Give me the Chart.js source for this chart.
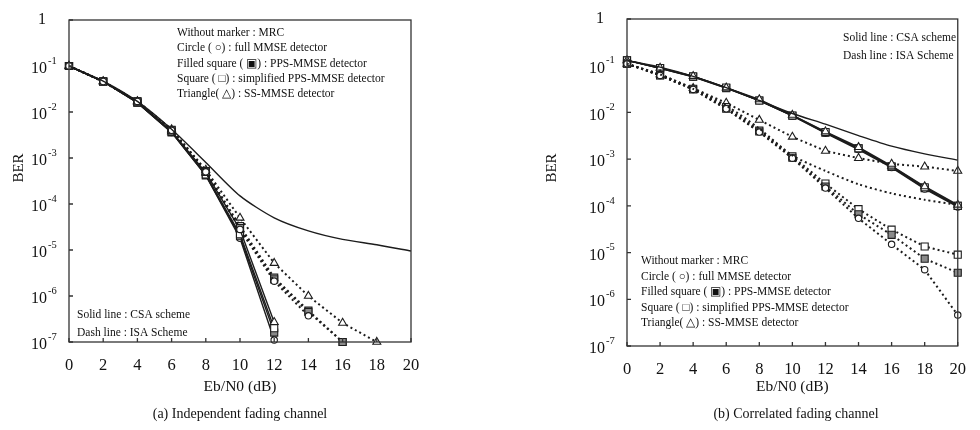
<!DOCTYPE html>
<html>
<head>
<meta charset="utf-8">
<script src="https://cdn.jsdelivr.net/npm/chart.js@4.4.0/dist/chart.umd.min.js"></script>
<style>
  html, body { margin: 0; padding: 0; background: #fff; }
  #wrap { position: relative; width: 980px; height: 430px; overflow: hidden; }
  canvas { position: absolute; top: 0; }
</style>
</head>
<body>
<div id="wrap">
  <canvas id="chart-independent" width="490" height="430" style="left:0"></canvas>
  <canvas id="chart-correlated" width="490" height="430" style="left:490px"></canvas>
</div>
<script>
// Eb/N0 (dB) sample points and axis ticks
const snr = [0, 2, 4, 6, 8, 10, 12, 14, 16, 18, 20];
const xTicks = [0, 2, 4, 6, 8, 10, 12, 14, 16, 18, 20];
const berDecades = [0, -1, -2, -3, -4, -5, -6, -7];

// (a) independent fading channel
const indMrc = [0.1, 0.047, 0.017, 0.0042, 8e-4, 1.5e-4, 5e-5, 2.6e-5, 1.7e-5, 1.3e-5, 9.5e-6];
const indCsaFull = [0.1, 0.046, 0.016, 0.0036, 4.2e-4, 1.8e-5, 1.1e-7];
const indCsaPps = [0.1, 0.046, 0.016, 0.0036, 4.2e-4, 2e-5, 1.6e-7];
const indCsaSimp = [0.1, 0.046, 0.016, 0.0037, 4.4e-4, 2.2e-5, 2e-7];
const indCsaSs = [0.1, 0.046, 0.017, 0.0038, 4.8e-4, 2.8e-5, 2.7e-7];
const indIsaFull = [0.1, 0.046, 0.017, 0.004, 5e-4, 2.8e-5, 2.1e-6, 3.7e-7];
const indIsaPps = [0.1, 0.046, 0.017, 0.004, 5e-4, 3e-5, 2.3e-6, 4.5e-7, 1e-7];
const indIsaSimp = [0.1, 0.046, 0.017, 0.0041, 5.2e-4, 3.3e-5, 2.5e-6, 4.8e-7, 1e-7];
const indIsaSs = [0.1, 0.046, 0.017, 0.0042, 5.5e-4, 5e-5, 5.2e-6, 1e-6, 2.6e-7, 1e-7];

// (b) correlated fading channel
const corMrcCsa = [0.13, 0.093, 0.059, 0.034, 0.018, 9.5e-3, 5.6e-3, 3.2e-3, 1.9e-3, 1.3e-3, 9.5e-4];
const corMrcIsa = [0.11, 0.065, 0.032, 0.014, 4.5e-3, 1.2e-3, 5.6e-4, 2.9e-4, 1.85e-4, 1.35e-4, 1.05e-4];
const corCsaFull = [0.13, 0.088, 0.058, 0.033, 0.018, 8.4e-3, 3.6e-3, 1.6e-3, 6.6e-4, 2.3e-4, 9.5e-5];
const corCsaPps = [0.13, 0.088, 0.058, 0.033, 0.018, 8.5e-3, 3.7e-3, 1.7e-3, 6.8e-4, 2.4e-4, 1e-4];
const corCsaSimp = [0.13, 0.089, 0.059, 0.034, 0.018, 8.6e-3, 3.8e-3, 1.7e-3, 7e-4, 2.5e-4, 1e-4];
const corCsaSs = [0.13, 0.09, 0.06, 0.034, 0.019, 8.8e-3, 3.9e-3, 1.8e-3, 7.2e-4, 2.6e-4, 1.05e-4];
const corIsaFull = [0.11, 0.062, 0.031, 0.012, 3.8e-3, 1.05e-3, 2.4e-4, 5.4e-5, 1.5e-5, 4.3e-6, 4.6e-7];
const corIsaPps = [0.11, 0.062, 0.031, 0.012, 3.9e-3, 1.07e-3, 2.6e-4, 6.6e-5, 2.4e-5, 7.4e-6, 3.7e-6];
const corIsaSimp = [0.11, 0.063, 0.032, 0.013, 4.1e-3, 1.15e-3, 3e-4, 8.5e-5, 3.1e-5, 1.35e-5, 9e-6];
const corIsaSs = [0.11, 0.065, 0.033, 0.016, 6.9e-3, 3e-3, 1.5e-3, 1.05e-3, 7.9e-4, 6.9e-4, 5.6e-4];

const markerNotes = [
    'Without marker : MRC',
    'Circle ( \u25CB) : full MMSE detector',
    'Filled square ( \u25A3) : PPS-MMSE detector',
    'Square ( \u25A1) : simplified PPS-MMSE detector',
    'Triangle( \u25B3) : SS-MMSE detector'
];
const lineNotes = ['Solid line : CSA scheme', 'Dash line : ISA Scheme'];

(function () {
    "use strict";

    const serif = '"Liberation Serif", "Times New Roman", serif';
    const ink = '#1c1c1c';

    const markers = {
        mrc: { pointRadius: 0 },
        full: { pointStyle: 'circle', pointRadius: 3.2, pointBackgroundColor: '#fff' },
        pps: { pointStyle: 'rect', pointRadius: 5, pointBackgroundColor: '#8a8a8a' },
        simp: { pointStyle: 'rect', pointRadius: 5, pointBackgroundColor: '#fff' },
        ss: { pointStyle: 'triangle', pointRadius: 4.6, pointBackgroundColor: '#fff' }
    };

    function series(label, values, kind, dashed) {
        return Object.assign({
            label: label,
            data: values.map((v, i) => ({ x: snr[i], y: v })),
            borderColor: ink,
            borderWidth: dashed ? 2 : 1.4,
            borderDash: dashed ? [2, 3] : [],
            pointBorderColor: ink,
            pointBorderWidth: 1.1,
            tension: kind === 'mrc' ? 0.25 : 0,
            clip: false,
            fill: false
        }, markers[kind]);
    }

    // box, inward ticks, superscript y labels and the text notes
    const paperFrame = {
        id: 'paperFrame',
        afterDraw(chart, args, opts) {
            const ctx = chart.ctx, a = chart.chartArea;
            const xs = chart.scales.x, ys = chart.scales.y;
            ctx.save();
            ctx.strokeStyle = '#333';
            ctx.lineWidth = 1.3;
            ctx.strokeRect(a.left, a.top, a.right - a.left, a.bottom - a.top);
            ctx.beginPath();
            xTicks.forEach(v => {
                const px = xs.getPixelForValue(v);
                ctx.moveTo(px, a.bottom); ctx.lineTo(px, a.bottom - 4);
            });
            berDecades.forEach(k => {
                const py = ys.getPixelForValue(Math.pow(10, k));
                ctx.moveTo(a.left, py); ctx.lineTo(a.left + 4, py);
            });
            ctx.stroke();

            ctx.fillStyle = '#111';
            ctx.textBaseline = 'middle';
            berDecades.forEach(k => {
                const py = ys.getPixelForValue(Math.pow(10, k));
                ctx.textAlign = 'right';
                ctx.font = '16px ' + serif;
                if (k === 0) {
                    ctx.fillText('1', a.left - 23, py);
                    return;
                }
                ctx.fillText('10', a.left - 22, py + 3);
                ctx.textAlign = 'left';
                ctx.font = '10.5px ' + serif;
                ctx.fillText(String(k), a.left - 21, py - 5);
            });

            ctx.save();
            ctx.translate(opts.berX, 168);
            ctx.rotate(-Math.PI / 2);
            ctx.textAlign = 'center';
            ctx.font = '15px ' + serif;
            ctx.fillText('BER', 0, 0);
            ctx.restore();

            ctx.textAlign = 'left';
            ctx.font = '11.5px ' + serif;
            opts.notes.forEach(n => {
                n.lines.forEach((t, i) => ctx.fillText(t, n.x, n.y + i * n.step));
            });

            ctx.textAlign = 'center';
            ctx.font = '14px ' + serif;
            ctx.fillText(opts.caption, opts.captionX, 414);
            ctx.restore();
        }
    };

    function makeConfig(datasets, box, frame) {
        return {
            type: 'line',
            data: { datasets: datasets },
            options: {
                responsive: false,
                animation: false,
                layout: { padding: { top: box.top, right: box.right, left: 0, bottom: 0 } },
                plugins: { legend: { display: false }, tooltip: { enabled: false }, paperFrame: frame },
                scales: {
                    x: {
                        type: 'linear', min: 0, max: 20,
                        grid: { display: false, drawTicks: false },
                        border: { display: false },
                        ticks: { stepSize: 2, padding: 14, color: '#111', font: { family: serif, size: 16.5 } },
                        title: {
                            display: true, text: 'Eb/N0 (dB)', color: '#111',
                            font: { family: serif, size: 15.5 }, padding: { top: 0, bottom: 34 }
                        },
                        afterFit: s => { s.height = box.xHeight; }
                    },
                    y: {
                        type: 'logarithmic', min: 1e-7, max: 1,
                        grid: { display: false, drawTicks: false },
                        border: { display: false },
                        ticks: { display: false },
                        afterFit: s => { s.width = box.yWidth; }
                    }
                }
            },
            plugins: [paperFrame]
        };
    }

    /* (a) independent fading */
    const indSets = [
        series('MRC', indMrc, 'mrc', false),
        series('ISA full MMSE', indIsaFull, 'full', true),
        series('ISA PPS-MMSE', indIsaPps, 'pps', true),
        series('ISA simplified PPS-MMSE', indIsaSimp, 'simp', true),
        series('ISA SS-MMSE', indIsaSs, 'ss', true),
        series('CSA SS-MMSE', indCsaSs, 'ss', false),
        series('CSA simplified PPS-MMSE', indCsaSimp, 'simp', false),
        series('CSA PPS-MMSE', indCsaPps, 'pps', false),
        series('CSA full MMSE', indCsaFull, 'full', false)
    ];
    new Chart(document.getElementById('chart-independent'), makeConfig(indSets,
        { top: 20, right: 79, xHeight: 88, yWidth: 69 },
        {
            berX: 19, caption: '(a) Independent fading channel', captionX: 240,
            notes: [
                { x: 177, y: 33, step: 15.3, lines: markerNotes },
                { x: 77, y: 315, step: 18, lines: lineNotes }
            ]
        }));

    /* (b) correlated fading */
    const corSets = [
        series('MRC CSA', corMrcCsa, 'mrc', false),
        series('MRC ISA', corMrcIsa, 'mrc', true),
        series('ISA full MMSE', corIsaFull, 'full', true),
        series('ISA PPS-MMSE', corIsaPps, 'pps', true),
        series('ISA simplified PPS-MMSE', corIsaSimp, 'simp', true),
        series('ISA SS-MMSE', corIsaSs, 'ss', true),
        series('CSA SS-MMSE', corCsaSs, 'ss', false),
        series('CSA simplified PPS-MMSE', corCsaSimp, 'simp', false),
        series('CSA full MMSE', corCsaFull, 'full', false),
        series('CSA PPS-MMSE', corCsaPps, 'pps', false)
    ];
    new Chart(document.getElementById('chart-correlated'), makeConfig(corSets,
        { top: 19, right: 10, xHeight: 84, yWidth: 137 },
        {
            berX: 62, caption: '(b) Correlated fading channel', captionX: 306,
            notes: [
                { x: 353, y: 38, step: 17.5, lines: lineNotes },
                { x: 151, y: 261, step: 15.5, lines: markerNotes }
            ]
        }));
})();
</script>
</body>
</html>
